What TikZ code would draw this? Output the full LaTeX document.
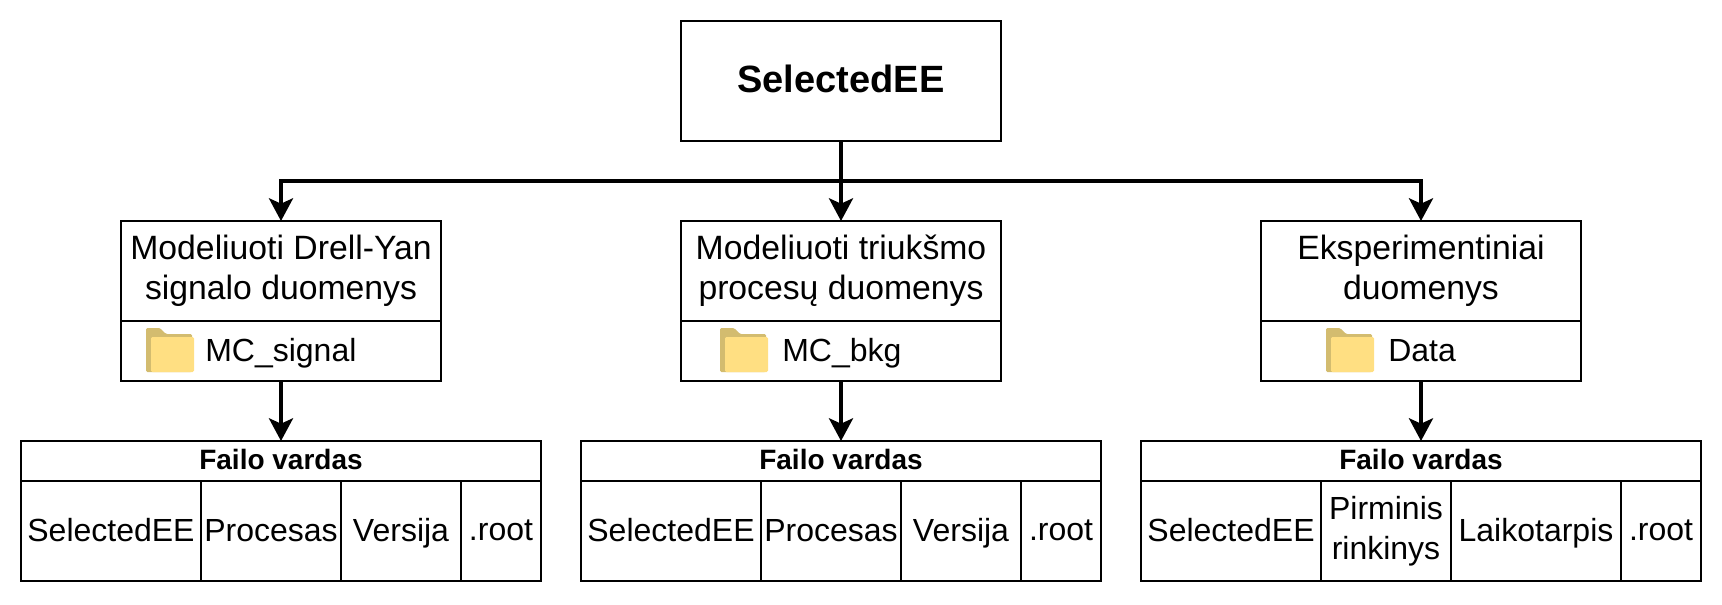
\documentclass[tikz,border=0pt]{standalone}
\usepackage{fontspec}
\setmainfont{Liberation Sans}
\usetikzlibrary{arrows.meta}

\definecolor{folderback}{HTML}{D3BC6F}
\definecolor{folderfront}{HTML}{FFDF82}

\tikzset{
	box/.style={draw,line width=1.5pt,anchor=north west,inner sep=0pt,outer sep=0pt,align=center,font=\fontsize{25.3}{30}\selectfont},
	cell/.style={box,minimum height=75pt,font=\fontsize{24}{30}\selectfont},
	wordcell/.style={cell,text depth=1.5pt},
	head/.style={box,minimum width=#1,minimum height=30pt,text depth=2pt,font=\fontsize{21}{26}\selectfont\bfseries},
	lbl/.style={anchor=west,inner sep=0pt,text depth=0pt,font=\fontsize{24}{30}\selectfont},
	link/.style={line width=3pt,-{Stealth[length=17pt,width=18pt,inset=4pt]}},
	folder/.pic={
		\fill [folderback,rounded corners=1pt] (0,0) -- (14,0) -- (20,-6) -- (46,-6) -- (46,-44) -- (0,-44) -- cycle ;
		\fill [folderfront,rounded corners=1pt] (5,-9) -- (48,-9) -- (48,-44) -- (5,-44) -- cycle ;
	}
}

\begin{document}
\begin{tikzpicture}[x=0.75pt,y=0.75pt,yscale=-1,xscale=1]
	\useasboundingbox (0,0) rectangle (1722,604);

	\node (top) [box,minimum width=240pt,minimum height=90pt,text depth=4pt,font=\fontsize{28.5}{34}\selectfont\bfseries] at (681,21) {SelectedEE};

	\node (signal) [box,minimum width=240pt,minimum height=75pt] at (121,221) {Modeliuoti Drell-Yan\\signalo duomenys};
	\node (signaldir) [box,minimum width=240pt,minimum height=45pt] at (121,321) {};
	\pic at (146,328) {folder};
	\node (signallbl) [lbl] at (205,350) {MC\_signal};

	\node (bkg) [box,minimum width=240pt,minimum height=75pt] at (681,221) {Modeliuoti triukšmo\\procesų duomenys};
	\node (bkgdir) [box,minimum width=240pt,minimum height=45pt] at (681,321) {};
	\pic at (720,328) {folder};
	\node (bkglbl) [lbl] at (782,350) {MC\_bkg};

	\node (data) [box,minimum width=240pt,minimum height=75pt] at (1261,221) {Eksperimentiniai\\duomenys};
	\node (datadir) [box,minimum width=240pt,minimum height=45pt] at (1261,321) {};
	\pic at (1326,328) {folder};
	\node (datalbl) [lbl] at (1388,350) {Data};

	\node (signalhead) [head=390pt] at (21,441) {Failo vardas};
	\node (signala) [wordcell,minimum width=135pt] at (21,481) {SelectedEE};
	\node (signalb) [wordcell,minimum width=105pt] at (201,481) {Procesas};
	\node (signalc) [wordcell,minimum width=90pt] at (341,481) {Versija};
	\node (signald) [wordcell,minimum width=60pt] at (461,481) {.root};

	\node (bkghead) [head=390pt] at (581,441) {Failo vardas};
	\node (bkga) [wordcell,minimum width=135pt] at (581,481) {SelectedEE};
	\node (bkgb) [wordcell,minimum width=105pt] at (761,481) {Procesas};
	\node (bkgc) [wordcell,minimum width=90pt] at (901,481) {Versija};
	\node (bkgd) [wordcell,minimum width=60pt] at (1021,481) {.root};

	\node (datahead) [head=420pt] at (1141,441) {Failo vardas};
	\node (dataa) [wordcell,minimum width=135pt] at (1141,481) {SelectedEE};
	\node (datab) [cell,minimum width=97.5pt] at (1321,481) {Pirminis\\rinkinys};
	\node (datac) [wordcell,minimum width=127.5pt] at (1451,481) {Laikotarpis};
	\node (datad) [wordcell,minimum width=60pt] at (1621,481) {.root};

	\coordinate (bus) at (841,181);
	\draw [link] (top.south) -- (bus) -| (signal.north);
	\draw [link] (top.south) -- (bkg.north);
	\draw [link] (top.south) -- (bus) -| (data.north);
	\draw [link] (signaldir.south) -- (signalhead.north);
	\draw [link] (bkgdir.south) -- (bkghead.north);
	\draw [link] (datadir.south) -- (datahead.north);
\end{tikzpicture}
\end{document}
